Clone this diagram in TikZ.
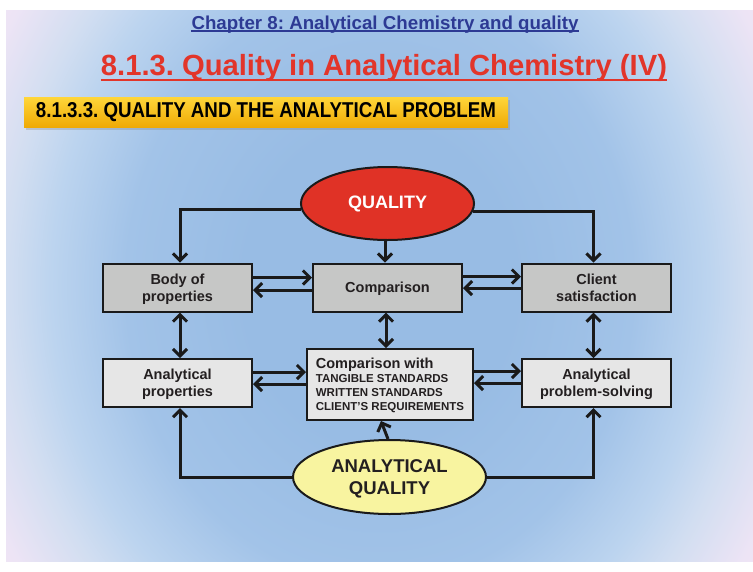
\documentclass[tikz,border=0pt]{standalone}
\usepackage{fontspec}
\setmainfont{Liberation Sans}
\newfontfamily\narrowfont[FakeStretch=0.82]{Liberation Sans}
\usetikzlibrary{shapes.geometric,arrows.meta,calc,shadows}
\frenchspacing
\definecolor{bgA}{HTML}{98BCE4}
\definecolor{bgB}{HTML}{A2C3E8}
\definecolor{bgC}{HTML}{BCD4EF}
\definecolor{bgD}{HTML}{D2DEF1}
\definecolor{bgE}{HTML}{EDE4F5}
\definecolor{bgF}{HTML}{F6E8F8}
\definecolor{titleblue}{HTML}{2D3A94}
\definecolor{titlered}{HTML}{E2352A}
\definecolor{banTop}{HTML}{FFD63A}
\definecolor{banBot}{HTML}{EFAA05}
\definecolor{boxdark}{HTML}{C6C7C6}
\definecolor{boxlight}{HTML}{E6E6E6}
\definecolor{boxline}{HTML}{1A1A1A}
\definecolor{txt}{HTML}{231F20}
\definecolor{qred}{HTML}{E03226}
\definecolor{aqyellow}{HTML}{F8F4A0}
\pgfdeclareradialshading{slidebg}{\pgfpoint{0bp}{0bp}}{color(0bp)=(bgA); color(9bp)=(bgA); color(17bp)=(bgB); color(22bp)=(bgC); color(25bp)=(bgD); color(29bp)=(bgE); color(33bp)=(bgF); color(50bp)=(bgF)}
\begin{document}
\begin{tikzpicture}[x=1pt,y=-1pt,
  box/.style={draw=boxline, line width=2pt, minimum width=149pt, minimum height=48pt, inner sep=0pt, align=center, text=txt, text depth=-1pt, font=\fontsize{14.5}{16.6}\selectfont\bfseries},
  topbox/.style={box, fill=boxdark},
  lowbox/.style={box, fill=boxlight},
  arr/.style={line width=3pt, draw=boxline, -{Straight Barb[length=7pt,width=14pt]}},
  darr/.style={line width=3pt, draw=boxline, {Straight Barb[length=7pt,width=14pt]}-{Straight Barb[length=7pt,width=14pt]}},
  oval/.style={ellipse, draw=boxline, line width=2pt, inner sep=0pt, align=center}
]
\useasboundingbox (0,0) rectangle (753,571);
\fill[white] (0,0) rectangle (753,571);
\begin{scope}
  \clip (6,10) rectangle (753,561);
  \shade[shading=slidebg] (6,-150) rectangle (753,721);
\end{scope}

% titles
\node[inner sep=0pt, anchor=base, text=titleblue, font=\bfseries] (t1) at (385,29)
  {\resizebox{387pt}{!}{\fontsize{18}{20}\selectfont Chapter 8: Analytical Chemistry and quality}};
\draw[titleblue, line width=1.5pt] ([yshift=-2pt]t1.base west) -- ([yshift=-2pt]t1.base east);
\node[inner sep=0pt, anchor=base, text=titlered, font=\bfseries] (t2) at (384,75)
  {\resizebox{566pt}{!}{\fontsize{29}{32}\selectfont 8.1.3. Quality in Analytical Chemistry (IV)}};
\draw[titlered, line width=2pt] ([yshift=-5.3pt]t2.base west) -- ([yshift=-5.3pt]t2.base east);

% banner
\node[top color=banTop, bottom color=banBot, minimum width=484pt, minimum height=30pt, inner sep=0pt,
  drop shadow={shadow xshift=2pt, shadow yshift=-3pt, opacity=0.3}, text=black, font=\narrowfont\bfseries] (ban) at (266,112)
  {\resizebox{460pt}{15pt}{\fontsize{20}{22}\selectfont 8.1.3.3. QUALITY AND THE ANALYTICAL PROBLEM}};

% ellipses
\node[oval, fill=qred, minimum width=173pt, minimum height=73pt, text=white, font=\fontsize{18}{20}\selectfont\bfseries] (Q) at (387.5,203.5) {QUALITY};
\node[oval, fill=aqyellow, minimum width=193pt, minimum height=74pt, text=txt, text depth=-3pt, font=\fontsize{18.5}{22}\selectfont\bfseries] (AQ) at (389.5,477) {ANALYTICAL\\QUALITY};

% boxes
\node[topbox] (body) at (177.5,287.5) {Body of\\properties};
\node[topbox] (comp) at (387.5,287.5) {Comparison};
\node[topbox] (client) at (596.5,287.5) {Client\\satisfaction};
\node[lowbox] (aprop) at (177.5,383) {Analytical\\properties};
\node[lowbox] (aps) at (596.5,383) {Analytical\\problem-solving};
\node[lowbox, minimum width=166pt, minimum height=71pt, align=left, text depth=-5.5pt, font=\fontsize{11.5}{14}\selectfont\bfseries] (cw) at (390,384.5)
  {{\fontsize{14.5}{14}\selectfont Comparison with}\\TANGIBLE STANDARDS\\WRITTEN STANDARDS\\CLIENT’S REQUIREMENTS};

% connectors from QUALITY
\draw[arr] (Q.184.4) -| ([xshift=2.5pt]body.north);
\draw[arr] (Q.355.6) -| ([xshift=-3pt]client.north);
\draw[arr] ([xshift=-2.5pt]Q.south) -- ([xshift=-2.5pt]comp.north);

% horizontal pairs, top row
\draw[arr] (body.east |- 0,277.5) -- (comp.west |- 0,277.5);
\draw[arr] (comp.west |- 0,290) -- (body.east |- 0,290);
\draw[arr] (comp.east |- 0,276.5) -- (client.west |- 0,276.5);
\draw[arr] (client.west |- 0,288) -- (comp.east |- 0,288);

% horizontal pairs, bottom row
\draw[arr] (aprop.east |- 0,372) -- (cw.west |- 0,372);
\draw[arr] (cw.west |- 0,384) -- (aprop.east |- 0,384);
\draw[arr] (cw.east |- 0,371) -- (aps.west |- 0,371);
\draw[arr] (aps.west |- 0,383) -- (cw.east |- 0,383);

% vertical double arrows
\draw[darr] (body.south -| 180,0) -- (aprop.north -| 180,0);
\draw[darr] (comp.south -| 386,0) -- (cw.north -| 386,0);
\draw[darr] (client.south -| 593.5,0) -- (aps.north -| 593.5,0);

% connectors from ANALYTICAL QUALITY
\draw[arr] (AQ.west) -| (aprop.south -| 180,0);
\draw[arr] (AQ.east) -| (aps.south -| 593.5,0);
\draw[arr] ([xshift=-1.5pt]AQ.north) -- (cw.south -| 381,0);
\end{tikzpicture}
\end{document}
